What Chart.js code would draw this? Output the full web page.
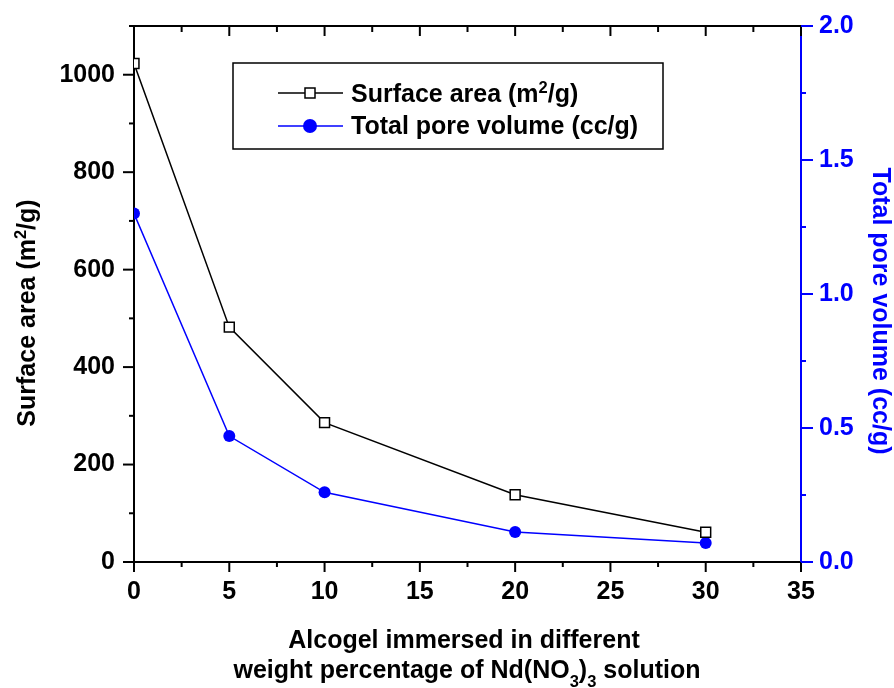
<!DOCTYPE html>
<html>
<head>
<meta charset="utf-8">
<script src="https://cdn.jsdelivr.net/npm/chart.js@4/dist/chart.umd.min.js"></script>
<style>
  html, body { margin: 0; padding: 0; background: #fff; }
</style>
</head>
<body>
<canvas id="poreChart" width="894" height="688"></canvas>
<script>
// data
var loading = [0, 5, 10, 20, 30];                 // wt% Nd(NO3)3
var surfaceArea = [1023, 482, 286, 138, 61];      // m2/g
var poreVolume = [1.30, 0.47, 0.26, 0.112, 0.071]; // cc/g

var xTicks = [0, 5, 10, 15, 20, 25, 30, 35];
var leftTicks = [0, 200, 400, 600, 800, 1000];
var rightTicks = [0, 0.5, 1.0, 1.5, 2.0];

var FONT = "'Liberation Sans', Arial, sans-serif";
var BLUE = '#0000ff';

function toPoints(ys) {
    return loading.map(function (x, i) { return { x: x, y: ys[i] }; });
}

// text with super/subscripts: parts = [[text, kind], ...]
function richWidth(ctx, parts, size) {
    var w = 0;
    parts.forEach(function (p) {
        var s = p[1] ? size * 0.66 : size;
        ctx.font = 'bold ' + s + 'px ' + FONT;
        w += ctx.measureText(p[0]).width;
    });
    return w;
}
function drawRich(ctx, parts, x, y, size, color, align) {
    var w = richWidth(ctx, parts, size);
    var cx = align === 'center' ? x - w / 2 : x;
    ctx.fillStyle = color;
    ctx.textAlign = 'left';
    ctx.textBaseline = 'alphabetic';
    parts.forEach(function (p) {
        var s = p[1] ? size * 0.66 : size;
        var dy = p[1] === 'sup' ? -size * 0.38 : (p[1] === 'sub' ? size * 0.34 : 0);
        ctx.font = 'bold ' + s + 'px ' + FONT;
        ctx.fillText(p[0], cx, y + dy);
        cx += ctx.measureText(p[0]).width;
    });
}

// keep the plot box where the figure has it
function noPadV(s) { s.paddingTop = 0; s.paddingBottom = 0; }

var extras = {
    id: 'extras',
    afterDraw: function (chart) {
        var ctx = chart.ctx, a = chart.chartArea;
        var x = chart.scales.x, y = chart.scales.y, y1 = chart.scales.y1;
        ctx.save();
        ctx.lineWidth = 2;
        ctx.lineCap = 'butt';

        function seg(x0, y0, x2, y2) {
            ctx.beginPath(); ctx.moveTo(x0, y0); ctx.lineTo(x2, y2); ctx.stroke();
        }

        // top frame
        ctx.strokeStyle = '#000';
        seg(a.left - 1, a.top, a.right, a.top);

        // x ticks, out at bottom, in at top
        for (var v = 0; v <= 35; v += 2.5) {
            var px = x.getPixelForValue(v);
            var major = v % 5 === 0;
            seg(px, a.bottom, px, a.bottom + (major ? 10 : 5));
            seg(px, a.top, px, a.top + (major ? 10 : 6));
        }
        // left ticks
        for (var s = 0; s <= 1100; s += 100) {
            var py = y.getPixelForValue(s);
            seg(a.left, py, a.left - (s % 200 === 0 ? 11 : 5), py);
        }
        // right ticks (blue)
        ctx.strokeStyle = BLUE;
        for (var r = 0; r <= 2.0001; r += 0.25) {
            var ry = y1.getPixelForValue(r);
            var maj = Math.abs(r * 2 - Math.round(r * 2)) < 1e-6;
            seg(a.right, ry, a.right + (maj ? 12 : 5), ry);
        }

        // axis titles
        ctx.save();
        ctx.translate(35, 313);
        ctx.rotate(-Math.PI / 2);
        drawRich(ctx, [['Surface area (m', ''], ['2', 'sup'], ['/g)', '']], 0, 0, 25, '#000', 'center');
        ctx.restore();

        ctx.save();
        ctx.translate(873, 311);
        ctx.rotate(Math.PI / 2);
        drawRich(ctx, [['Total pore volume (cc/g)', '']], 0, 0, 25, BLUE, 'center');
        ctx.restore();

        drawRich(ctx, [['Alcogel immersed in different', '']], 464, 648, 25, '#000', 'center');
        drawRich(ctx, [['weight percentage of Nd(NO', ''], ['3', 'sub'], [')', ''], ['3', 'sub'], [' solution', '']],
            467, 678, 25, '#000', 'center');

        // legend box
        ctx.strokeStyle = '#000';
        ctx.lineWidth = 1.5;
        ctx.strokeRect(233, 63, 430, 86);

        var ds = chart.data.datasets;
        // row 1
        ctx.strokeStyle = ds[0].borderColor;
        seg(278, 93, 343, 93);
        ctx.fillStyle = '#fff';
        ctx.fillRect(305, 88, 10, 10);
        ctx.strokeRect(305, 88, 10, 10);
        drawRich(ctx, [['Surface area (m', ''], ['2', 'sup'], ['/g)', '']], 351, 102, 25, '#000', 'left');
        // row 2
        ctx.strokeStyle = ds[1].borderColor;
        seg(278, 126, 343, 126);
        ctx.fillStyle = ds[1].pointBackgroundColor;
        ctx.beginPath(); ctx.arc(310, 126, 7, 0, Math.PI * 2); ctx.fill();
        drawRich(ctx, [['Total pore volume (cc/g)', '']], 351, 134, 25, '#000', 'left');

        ctx.restore();
    }
};

var tickFont = { family: FONT, size: 25, weight: 'bold' };

new Chart(document.getElementById('poreChart').getContext('2d'), {
    type: 'line',
    data: {
        datasets: [{
            label: 'Surface area (m2/g)',
            data: toPoints(surfaceArea),
            yAxisID: 'y',
            borderColor: '#000',
            borderWidth: 1.5,
            pointStyle: 'rect',
            pointRadius: 7,
            pointBorderWidth: 1.5,
            pointBorderColor: '#000',
            pointBackgroundColor: '#fff',
            tension: 0
        }, {
            label: 'Total pore volume (cc/g)',
            data: toPoints(poreVolume),
            yAxisID: 'y1',
            borderColor: BLUE,
            borderWidth: 1.5,
            pointStyle: 'circle',
            pointRadius: 6,
            pointBorderWidth: 0,
            pointBackgroundColor: BLUE,
            tension: 0
        }]
    },
    options: {
        responsive: false,
        animation: false,
        layout: { padding: { top: 26, left: 0, right: 0, bottom: 0 } },
        plugins: { legend: { display: false }, tooltip: { enabled: false } },
        scales: {
            x: {
                type: 'linear', position: 'bottom', min: 0, max: 35,
                afterBuildTicks: function (s) { s.ticks = xTicks.map(function (v) { return { value: v }; }); },
                afterFit: function (s) { s.height = 126; s.paddingLeft = 0; s.paddingRight = 0; },
                grid: { drawOnChartArea: false, drawTicks: false },
                border: { color: '#000', width: 2 },
                ticks: { color: '#000', font: tickFont, padding: 15, maxRotation: 0, autoSkip: false }
            },
            y: {
                type: 'linear', position: 'left', min: 0, max: 1100,
                afterBuildTicks: function (s) { s.ticks = leftTicks.map(function (v) { return { value: v }; }); },
                afterFit: function (s) { s.width = 134; noPadV(s); },
                grid: { drawOnChartArea: false, drawTicks: false },
                border: { color: '#000', width: 2 },
                ticks: {
                    color: '#000', font: tickFont, padding: 19,
                    callback: function (v) { return String(v); }
                }
            },
            y1: {
                type: 'linear', position: 'right', min: 0, max: 2,
                afterBuildTicks: function (s) { s.ticks = rightTicks.map(function (v) { return { value: v }; }); },
                afterFit: function (s) { s.width = 93; noPadV(s); },
                grid: { drawOnChartArea: false, drawTicks: false },
                border: { color: BLUE, width: 2 },
                ticks: {
                    color: BLUE, font: tickFont, padding: 18,
                    callback: function (v) { return Number(v).toFixed(1); }
                }
            }
        }
    },
    plugins: [extras]
});
</script>
</body>
</html>
